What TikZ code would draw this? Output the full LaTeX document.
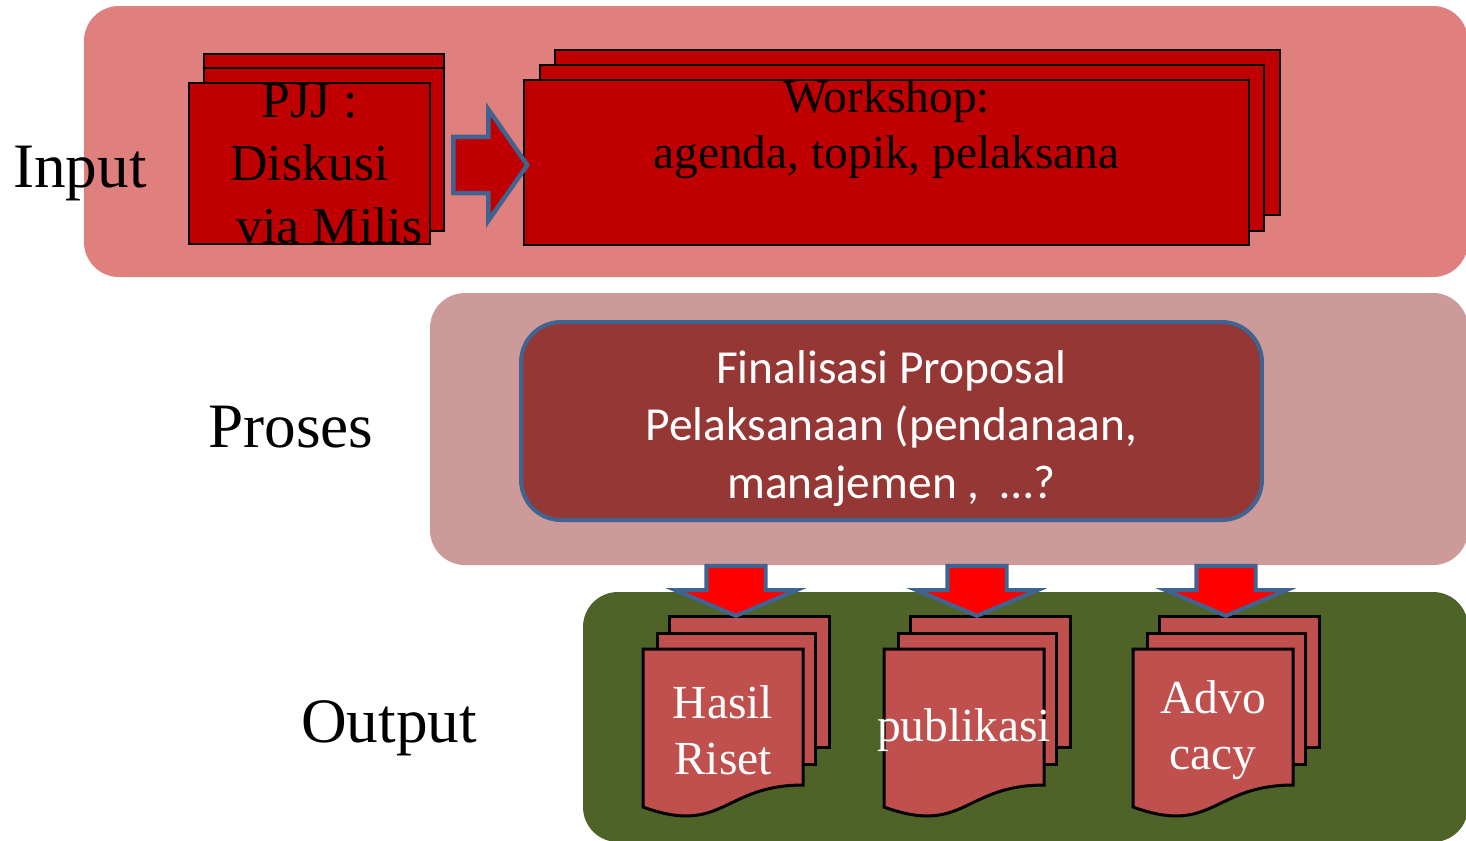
\documentclass[tikz,border=0pt]{standalone}
\usepackage{fontspec}
\setmainfont{Liberation Serif}
\newfontfamily\calibri{Carlito}
\usetikzlibrary{shapes.arrows, positioning}

\definecolor{inband}{RGB}{223,128,127}
\definecolor{procband}{RGB}{204,154,153}
\definecolor{outband}{RGB}{79,98,40}
\definecolor{boxred}{RGB}{192,0,0}
\definecolor{procred}{RGB}{149,55,53}
\definecolor{docred}{RGB}{192,80,77}
\definecolor{edgeblue}{RGB}{63,100,145}

\begin{document}
\begin{tikzpicture}[
  x=0.02cm, y=-0.02cm,
  band/.style    = {rounded corners=0.7cm},
  stage/.style   = {font=\fontsize{36}{40}\selectfont, anchor=base},
  card/.style    = {draw=black, line width=1.4pt, fill=boxred},
  task/.style    = {draw=edgeblue, line width=2.3pt, fill=procred, rounded corners=0.8cm,
                    align=center, text=white, inner sep=0pt,
                    font=\calibri\fontsize{27}{32.7}\selectfont},
  doc/.style     = {draw=black, line width=1.7pt, fill=docred},
  doctext/.style = {align=center, text=white, font=\fontsize{27}{32}\selectfont},
  rarrow/.style  = {single arrow, draw=edgeblue, line width=2.5pt, fill=boxred,
                    inner xsep=0pt, inner ysep=0.52cm, minimum height=1.48cm,
                    single arrow head extend=0.55cm, single arrow tip angle=110,
                    single arrow head indent=0pt},
  darrow/.style  = {single arrow, draw=edgeblue, line width=2.3pt, fill=red, rotate=-90,
                    inner xsep=0pt, inner ysep=0.55cm, minimum height=1.0cm,
                    single arrow head extend=0.62cm, single arrow tip angle=134,
                    single arrow head indent=0pt}
]
\useasboundingbox (0,0) rectangle (1466,840);

%--------------------------------------------------
% stage bands
%--------------------------------------------------
\fill[inband, band]   (84,6)    rectangle (1468,277);
\fill[procband, band] (430,293) rectangle (1468,565);
\fill[outband, band]  (583,592) rectangle (1468,842);

\node[stage] (input)  at (80,187)  {Input};
\node[stage] (proses) at (291,447) {Proses};
\node[stage] (output) at (389,742) {Output};

%--------------------------------------------------
% input: stacked cards
%--------------------------------------------------
\draw[card] (204,54) rectangle (444,229);
\draw[card] (204,68) rectangle (444,231);
\node[card, minimum width=4.82cm, inner sep=0pt, text height=3.22cm, text depth=0pt,
      align=center, font=\fontsize{29.5}{36}\selectfont] (pjj) at (309.5,163.5)
  {PJJ :\\Diskusi\\\hspace{0.8cm}via Milis};

\draw[card] (555,50) rectangle (1280,215);
\draw[card] (540,65) rectangle (1264,231);
\node[card, minimum width=14.5cm, inner sep=0pt, text height=1.76cm, text depth=1.54cm,
      align=center, font=\fontsize{27}{31.5}\selectfont] (workshop) at (886.5,162.5)
  {Workshop:\\agenda, topik, pelaksana};

% pjj -> workshop
\node[rarrow, anchor=tip] (pjj2ws) at (530,165) {};

%--------------------------------------------------
% proses
%--------------------------------------------------
\node[task, minimum width=14.82cm, text height=3.52cm, text depth=0.44cm] (final) at (891.5,421)
  {Finalisasi Proposal\\Pelaksanaan (pendanaan,\\manajemen ,~ …?};

%--------------------------------------------------
% output: document stacks
%--------------------------------------------------
\foreach \nm/\x/\txt in {hasil/643/{Hasil\\Riset}, publ/884/publikasi, advo/1133/{Advo\\cacy}}{
  \draw[doc] (\x+26,616) rectangle (\x+186,747);
  \draw[doc] (\x+14,633) rectangle (\x+172,764);
  \draw[doc] (\x,649) -- (\x+160,649) -- (\x+160,785)
    .. controls (\x+80,785) and (\x+80,836) .. (\x,807) -- cycle;
  \node[doctext, minimum width=3.2cm, minimum height=3.38cm] (\nm) at (\x+80,730) {\txt};
  % final -> document
  \node[darrow, anchor=tip] (to\nm) at (\x+93,618) {};
}

\end{tikzpicture}
\end{document}
